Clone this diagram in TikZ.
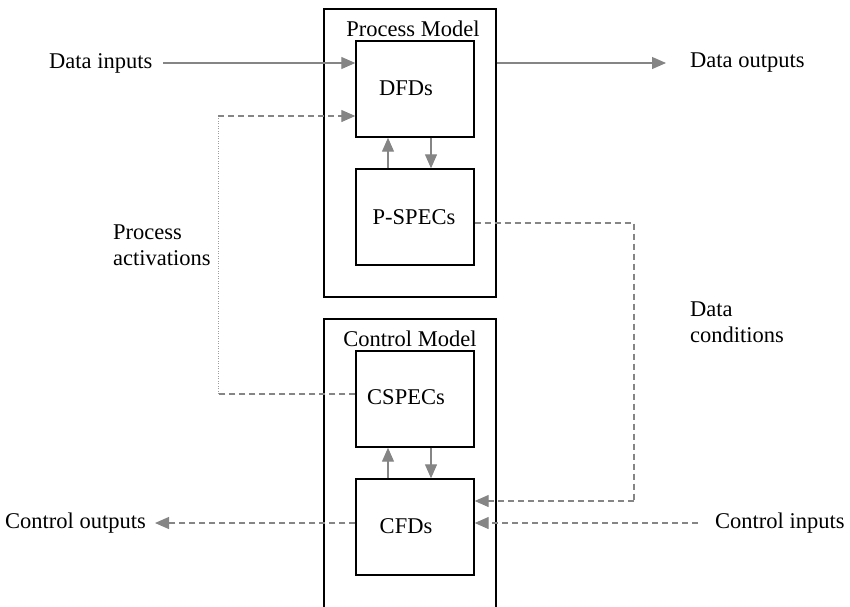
\documentclass[tikz,border=0pt]{standalone}
\usepackage{fontspec}
\setmainfont{Liberation Serif}
\usetikzlibrary{arrows.meta,calc}
\definecolor{arrgray}{HTML}{858585}
\tikzset{
  box/.style={draw=black, line width=1.4pt, rectangle, inner sep=0pt},
  outerbox/.style={box, minimum width=172pt},
  innerbox/.style={box, minimum width=118pt, minimum height=96pt},
  lbl/.style={font=\fontsize{22.5}{26}\selectfont, inner sep=0pt},
  flow/.style={draw=arrgray, line width=1.2pt, -{Triangle[length=14pt,width=12pt]}},
  dflow/.style={flow, dash pattern=on 6pt off 4pt},
  dline/.style={draw=arrgray, line width=1.2pt, dash pattern=on 6pt off 4pt},
  dotline/.style={draw=arrgray!80, line width=1pt, dash pattern=on 1pt off 1.5pt},
}
\begin{document}
\begin{tikzpicture}[x=1pt,y=-1pt]
\useasboundingbox (0,0) rectangle (850,606);
\clip (0,0) rectangle (850,606);
% outer boxes
\node[outerbox, minimum height=288pt] (pm) at (410,153) {};
\node[outerbox, minimum height=300pt] (cm) at (410,469) {};
\node[lbl] (pmt) at (413,29) {Process Model};
\node[lbl] (cmt) at (410,339) {Control Model};
% inner boxes
\node[innerbox] (dfd) at (415,89) {};
\node[innerbox] (psp) at (415,217) {};
\node[innerbox] (csp) at (415,399) {};
\node[innerbox] (cfd) at (415,527) {};
\node[lbl] (dfdt) at (406,88) {DFDs};
\node[lbl] (pspt) at (414,217) {P-SPECs};
\node[lbl] (cspt) at (406,397) {CSPECs};
\node[lbl] (cfdt) at (406,526) {CFDs};
% outer labels
\node[lbl, anchor=west] (din) at (49,63) {Data inputs};
\node[lbl, anchor=west] (dout) at (690,63) {Data outputs};
\node[lbl, anchor=west] (cout) at (5,523) {Control outputs};
\node[lbl, anchor=west] (cin) at (715,523) {Control inputs};
\node[lbl, anchor=west, align=left] (pact) at (113,245) {Process\\activations};
\node[lbl, anchor=west, align=left] (dcond) at (690,322) {Data\\conditions};
% coordinates
\coordinate (dinS) at (163,63);
\coordinate (doutE) at (666,63);
\coordinate (coutE) at (155,523);
\coordinate (cinS) at (698,523);
\coordinate (paB) at (218,394);
\coordinate (paT) at (218,116);
\coordinate (dcT) at (634,223);
\coordinate (dcB) at (634,501);
% data flows
\draw[flow] (dinS) -- (dinS -| dfd.west);
\draw[flow] (pm.east |- doutE) -- (doutE);
% internal arrows
\draw[flow] ([xshift=-27pt]psp.north) -- ([xshift=-27pt]dfd.south);
\draw[flow] ([xshift=16pt]dfd.south) -- ([xshift=16pt]psp.north);
\draw[flow] ([xshift=-27pt]cfd.north) -- ([xshift=-27pt]csp.south);
\draw[flow] ([xshift=16pt]csp.south) -- ([xshift=16pt]cfd.north);
% process activations
\draw[dline] (csp.west |- paB) -- (paB);
\draw[dotline] (paB) -- (paT);
\draw[dflow] (paT) -- (paT -| dfd.west);
% data conditions
\draw[dline] (psp.east |- dcT) -- (dcT) -- (dcB);
\draw[dflow] (dcB) -- (dcB -| cfd.east);
% control flows
\draw[dflow] (cinS) -- (cinS -| cfd.east);
\draw[dflow] (cfd.west |- coutE) -- (coutE);
\end{tikzpicture}
\end{document}
